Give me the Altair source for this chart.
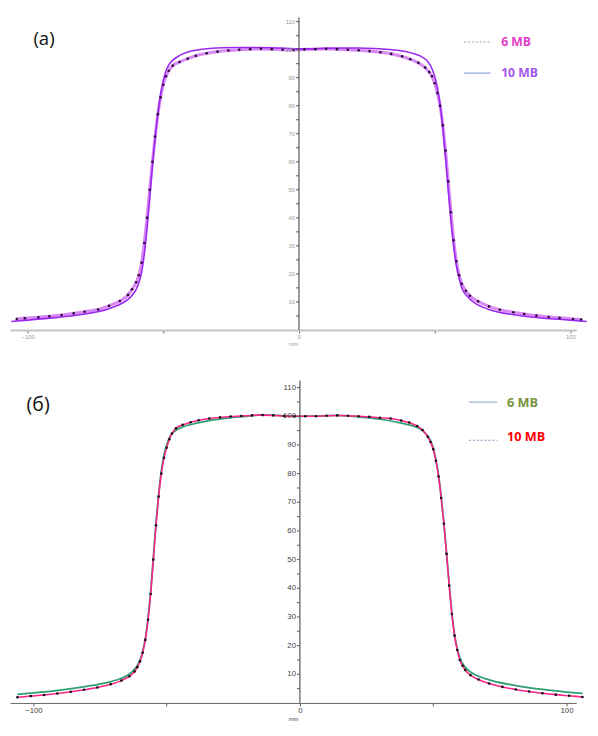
import altair as alt
import pandas as pd

# ---------------- Panel (a) ----------------
a6_x = [-104, -101, -96, -92, -87.5, -83, -79, -74, -70, -66, -63, -61.5, -60, -59, -58, -57, -56, -55,
        -54, -53, -52, -51, -50, -49, -48, -46.5, -44, -41, -38, -34, -30, -26, -22, -18, -14, -10, -6, -2,
        2, 6, 10, 14, 18, 22, 26, 30, 34, 38, 41, 44, 46.5, 48, 49, 50, 51, 52, 53, 54, 55, 56, 57, 58, 59,
        60, 61.5, 63, 66, 70, 74, 79, 83, 87.5, 92, 96, 101, 104]
a6_y = [3.9, 4.2, 4.5, 4.9, 5.3, 5.9, 6.5, 7.3, 8.6, 10.3, 12.5, 14.5, 17, 19.5, 24, 31, 40, 50,
        60, 69, 77, 83, 87.5, 90.5, 92.5, 94.3, 95.6, 96.8, 97.8, 98.7, 99.3, 99.7, 100.0, 100.2, 100.3, 100.2, 100.0, 99.9,
        100.1, 100.2, 100.3, 100.2, 100.0, 99.8, 99.5, 99.1, 98.5, 97.6, 96.6, 95.3, 93.6, 92.0, 90.5, 88, 84.5, 80, 73,
        64, 53, 42, 32, 24.5, 19.5,
        16.5, 14, 12.2, 10.2, 8.4, 7.2, 6.3, 5.7, 5.1, 4.6, 4.3, 3.9, 3.7]

a10_x = [-106, -100, -90, -80, -70, -65, -62, -60, -59, -58, -57, -56, -55, -54, -53, -52, -51, -50, -49, -48,
         -47, -45, -43, -40, -37, -33, -28, -22, -16, -10, -5, 0, 5, 10, 16, 22, 28, 33, 37, 40, 43, 45, 47,
         48, 49, 50, 51, 52, 53, 54, 55, 56, 57, 58, 59, 60, 62, 65, 70, 80, 90, 100, 106]
a10_y = [3.0, 3.5, 4.4, 5.5, 7.6, 9.6, 11.8, 14.5, 16.8, 20.5, 27, 36, 47, 58.5, 68.5, 77, 84, 89, 92.5, 94.5,
         95.8, 97.3, 98.4, 99.4, 100.0, 100.4, 100.7, 100.8, 100.8, 100.7, 100.5, 100.3, 100.3, 100.5, 100.6, 100.6, 100.4, 100.1, 99.7, 99.2, 98.4, 97.6, 96.2,
         95.0, 93.2, 90.5, 86.5, 80.5, 72, 61.5, 50, 39, 30, 23, 18.5, 15, 12, 9.5, 7.3, 5.3, 4.2, 3.5, 3.0]

# ---------------- Panel (б) ----------------
b6_x = [-106, -100, -90, -80, -72, -67, -64, -62, -60, -59, -58, -57, -56, -55, -54, -53, -52, -51, -50, -49,
        -48, -46, -44, -40, -36, -32, -26, -20, -14, -8, 0, 8, 14, 20, 26, 32, 36, 40, 44, 46, 48, 49, 50,
        51, 52, 53, 54, 55, 56, 57, 58, 59, 60, 62, 64, 67, 72, 80, 90, 100, 106]
b6_y = [3.0, 3.5, 4.5, 5.8, 7.2, 8.6, 10, 11.8, 15, 18, 22.5, 29.5, 39, 51, 63, 73, 81, 86.5, 90, 92.5,
        94, 95.4, 96.3, 97.3, 98.1, 98.8, 99.5, 100.0, 100.5, 100.3, 100.0, 100.1, 100.3, 100.0, 99.4, 98.7, 98.0, 97.2, 96.1, 95.0, 93.0, 91.5, 89,
        85, 79.5, 72, 63, 52.5, 41.5, 31.5, 24, 19, 15.8, 12.5, 10.8, 9.3, 7.8, 6.2, 4.8, 3.8, 3.3]

b10_x = [-106, -101, -96, -91, -86, -81, -76, -71, -67, -64, -62, -61, -60, -59, -58, -57, -56, -55, -54, -53,
         -52, -51, -50, -49, -48, -46.5, -44, -41, -38, -34, -30, -26, -22, -18, -14, -10, -6, -2, 2, 6, 10,
         14, 18, 22, 26, 30, 34, 38, 41, 44, 46, 48, 49, 50, 51, 52, 53, 54, 55, 56, 57, 58, 59, 60, 61, 62,
         64, 67, 71, 76, 81, 86, 91, 96, 101, 106]
b10_y = [2.0, 2.4, 2.8, 3.3, 3.9, 4.6, 5.4, 6.5, 7.8, 9.3, 11, 12.5, 14.5, 17.5, 22, 29, 38, 50, 62, 72,
         80, 85.5, 89, 92, 94, 95.8, 97, 97.9, 98.6, 99.2, 99.6, 99.9, 100.1, 100.3, 100.4, 100.3, 100.1, 100.0, 100.0, 100.0, 100.2,
         100.3, 100.2, 100.0, 99.8, 99.5, 99.2, 98.5, 97.8, 96.6, 95.2, 92.8, 91, 88.5, 84.5, 79, 71.5, 62.5, 52, 41, 31, 23.5, 18.5, 15, 13, 11.5,
         9.7, 8.2, 6.8, 5.6, 4.7, 4.0, 3.4, 2.9, 2.5, 2.1]

series = ["6 MB", "10 MB"]
x_ticks = [-100, -50, 0, 50, 100]
y_ticks = [5, 10, 15, 20, 25, 30, 35, 40, 45, 50, 55, 60, 65, 70, 75, 80, 85, 90, 95, 100, 105, 110]
y_labels = [10, 20, 30, 40, 50, 60, 70, 80, 90, 100, 110]

W = 580


def df(xs, ys):
    return pd.DataFrame({"x": xs, "v": ys})


def panel(d6, d10, dots, cfg):
    xs = alt.Scale(domain=cfg["xdom"], nice=False, zero=False)
    ys = alt.Scale(domain=[0, cfg["ytop"]], nice=False, zero=False)
    xaxis = alt.Axis(values=x_ticks, labelExpr="datum.value % 100 == 0 ? datum.label : ''",
                     title="mm", titleFontSize=cfg["tfs_ax"], titleFontWeight="normal",
                     titleColor=cfg["lab"], titlePadding=1, labelFontSize=cfg["fs"],
                     labelColor=cfg["lab"], labelPadding=1, domainColor=cfg["xdomc"],
                     domainWidth=cfg["xdomw"], tickColor="#555", tickSize=3, grid=False,
                     labelFont="Liberation Sans", titleFont="Liberation Sans")
    X = alt.X("x:Q", scale=xs, axis=xaxis)
    Y = alt.Y("v:Q", scale=ys, axis=None)
    layers = []
    for d, st in [(d6, cfg["s6"]), (d10, cfg["s10"])]:
        layers.append(alt.Chart(d).mark_line(interpolate="monotone", **st).encode(x=X, y=Y))
    layers.append(alt.Chart(dots).mark_point(filled=True, size=7, color=cfg["dotc"], opacity=1).encode(
        x=X, y=Y))
    # hand-drawn vertical axis through x = 0
    ydf = pd.DataFrame({"v": y_ticks, "x": [0] * len(y_ticks)})
    ldf = pd.DataFrame({"v": y_labels, "x": [0] * len(y_labels)})
    layers.append(alt.Chart(pd.DataFrame({"x": [0]})).mark_rule(color="#333", strokeWidth=1).encode(
        x=X, y=alt.value(0), y2=alt.value(cfg["h"])))
    layers.append(alt.Chart(ydf).mark_rule(color="#555", strokeWidth=1, xOffset=-3).encode(
        x=X, x2="x:Q", y=Y))
    layers.append(alt.Chart(ldf).mark_text(align="right", baseline="middle", dx=-4,
                                           fontSize=cfg["fs"], color=cfg["lab"],
                                           font="Liberation Sans").encode(
        x=X, y=Y, text="v:Q"))
    # panel label
    layers.append(alt.Chart(alt.Data(values=[{"t": cfg["label"]}])).mark_text(
        font="Open Sans", fontSize=cfg["lfs"], align="left", baseline="middle", color="#111").encode(
        text="t:N", x=alt.value(cfg["lpos"][0]), y=alt.value(cfg["lpos"][1])))
    # legend
    for i, name in enumerate(series):
        it = cfg["leg"][i]
        layers.append(alt.Chart(alt.Data(values=[{"t": name}])).mark_rule(
            color=it["lc"], strokeWidth=1.2, strokeDash=it["dash"]).encode(
            x=alt.value(it["x1"]), x2=alt.value(it["x2"]), y=alt.value(it["ly"])))
        layers.append(alt.Chart(alt.Data(values=[{"t": name}])).mark_text(
            font="Open Sans", fontSize=cfg["tfs"], fontWeight="bold", align="left", baseline="middle",
            color=it["tc"]).encode(text="t:N", x=alt.value(it["tx"]), y=alt.value(it["ty"])))
    return alt.layer(*layers).properties(width=W, height=cfg["h"])


cfg_a = dict(
    xdom=[-106.5, 102.2], ytop=111.5, h=320, fs=6, tfs_ax=6, lab="#999", xdomc="#c4c4c4", xdomw=2,
    s6=dict(color="#d98af5", strokeWidth=3.2), s10=dict(color="#9a28f0", strokeWidth=1.6),
    dotc="#2a0838", label="(a)", lfs=19, lpos=(24, 22),
    tfs=12.5,
    leg=[dict(lc="#a9b4d0", dash=[2, 2], x1=465, x2=492, ly=25, tc="#e040c8", tx=503, ty=25),
         dict(lc="#8fa6e0", dash=[1, 0], x1=465, x2=492, ly=57, tc="#a458f0", tx=503, ty=57)],
)
cfg_b = dict(
    xdom=[-108.8, 103.7], ytop=112.4, h=330, fs=8, tfs_ax=6, lab="#444", xdomc="#666", xdomw=1,
    s6=dict(color="#2f9e72", strokeWidth=1.8), s10=dict(color="#ff2288", strokeWidth=1.6),
    dotc="#111111", label="(б)", lfs=20, lpos=(17, 25),
    tfs=13,
    leg=[dict(lc="#95b3d7", dash=[1, 0], x1=470, x2=499, ly=22, tc="#77933c", tx=509, ty=23),
         dict(lc="#7f95c0", dash=[2, 2], x1=470, x2=499, ly=61, tc="#ff0000", tx=509, ty=58)],
)

pa = panel(df(a6_x, a6_y), df(a10_x, a10_y), df(a6_x, a6_y), cfg_a)
pb = panel(df(b6_x, b6_y), df(b10_x, b10_y), df(b10_x, b10_y), cfg_b)

chart = alt.vconcat(pa, pb, spacing=52, bounds="flush").properties(
    padding={"left": 0, "top": 0, "right": 0, "bottom": 0}
).configure_view(stroke=None)

chart.save("out.html", embed_options={"renderer": "svg", "actions": False})
